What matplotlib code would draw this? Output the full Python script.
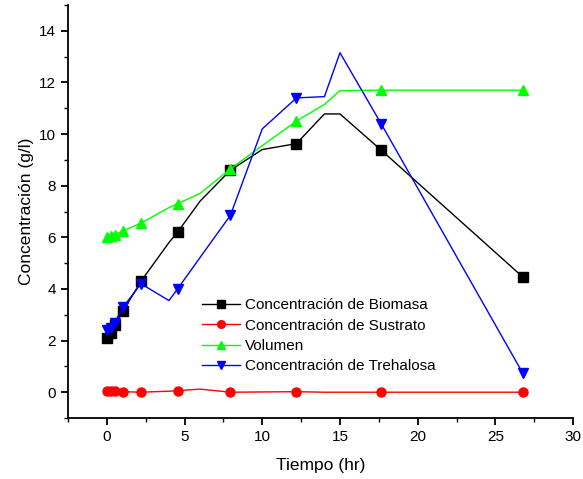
import numpy as np
import matplotlib.pyplot as plt
from matplotlib.ticker import MultipleLocator

plt.rcParams['font.family'] = ['Liberation Sans', 'DejaVu Sans']

# tiempos de muestreo (marcadores)
t_exp = [0, 0.25, 0.5, 1.05, 2.2, 4.55, 7.95, 12.2, 17.65, 26.75]
biomasa = [2.1, 2.3, 2.6, 3.15, 4.3, 6.2, 8.6, 9.63, 9.38, 4.47]
sustrato = [0.06, 0.05, 0.04, 0.02, 0.0, 0.06, 0.0, 0.02, 0.0, 0.0]
volumen = [6.02, 6.05, 6.1, 6.25, 6.55, 7.3, 8.65, 10.5, 11.7, 11.7]
trehalosa = [2.4, 2.5, 2.7, 3.3, 4.2, 4.0, 6.85, 11.4, 10.4, 0.75]

# curvas (lineas)
t_lin = [0, 0.25, 0.5, 1.05, 2.2, 4.0, 4.55, 6.0, 7.95, 10.0, 12.2, 14.0, 15.0, 17.65, 26.75]
biomasa_lin = [2.1, 2.3, 2.6, 3.15, 4.3, 5.8, 6.2, 7.4, 8.6, 9.4, 9.63, 10.78, 10.78, 9.38, 4.47]
sustrato_lin = [0.06, 0.05, 0.04, 0.02, 0.0, 0.04, 0.06, 0.12, 0.0, 0.01, 0.02, 0.0, 0.0, 0.0, 0.0]
volumen_lin = [6.02, 6.05, 6.1, 6.25, 6.55, 7.15, 7.3, 7.7, 8.65, 9.55, 10.5, 11.15, 11.68, 11.7, 11.7]
trehalosa_lin = [2.4, 2.5, 2.7, 3.3, 4.2, 3.55, 4.0, 5.22, 6.85, 10.2, 11.4, 11.45, 13.15, 10.4, 0.75]

fig = plt.figure(figsize=(5.83, 4.79), dpi=100)
ax = fig.add_axes([0.1166, 0.1273, 0.8664, 0.8623])

series = [
    (biomasa, biomasa_lin, 'black', 's', 'Concentración de Biomasa'),
    (sustrato, sustrato_lin, 'red', 'o', 'Concentración de Sustrato'),
    (volumen, volumen_lin, '#00FF00', '^', 'Volumen'),
    (trehalosa, trehalosa_lin, 'blue', 'v', 'Concentración de Trehalosa'),
]
for y, y_lin, c, m, lab in series:
    ax.plot(t_lin, y_lin, color=c, lw=1.0)
    ax.plot(t_exp, y, color=c, marker=m, ms=6.5, ls='none')
    # handle de leyenda
    ax.plot([], [], color=c, marker=m, ms=5.5, lw=1.0, label=lab)

ax.set_xlim(-2.5, 30)
ax.set_ylim(-1, 15)
ax.xaxis.set_major_locator(MultipleLocator(5))
ax.xaxis.set_minor_locator(MultipleLocator(2.5))
ax.yaxis.set_major_locator(MultipleLocator(2))
ax.yaxis.set_minor_locator(MultipleLocator(1))
ax.spines['top'].set_visible(False)
ax.spines['right'].set_visible(False)
ax.spines['left'].set_linewidth(1.3)
ax.spines['bottom'].set_linewidth(1.3)
ax.tick_params(which='major', direction='out', length=5, width=1.3, labelsize=11)
ax.tick_params(which='minor', direction='out', length=3, width=1.0)

ax.set_xlabel('Tiempo (hr)', fontsize=12.5, labelpad=10)
ax.set_ylabel('Concentración (g/l)', fontsize=12.5)

ax.legend(loc='upper left', bbox_to_anchor=(0.265, 0.29), frameon=False,
          fontsize=11, handlelength=2.5, handletextpad=0.3, labelspacing=0.42,
          borderaxespad=0, borderpad=0)

fig.savefig('out.png', dpi=100)
